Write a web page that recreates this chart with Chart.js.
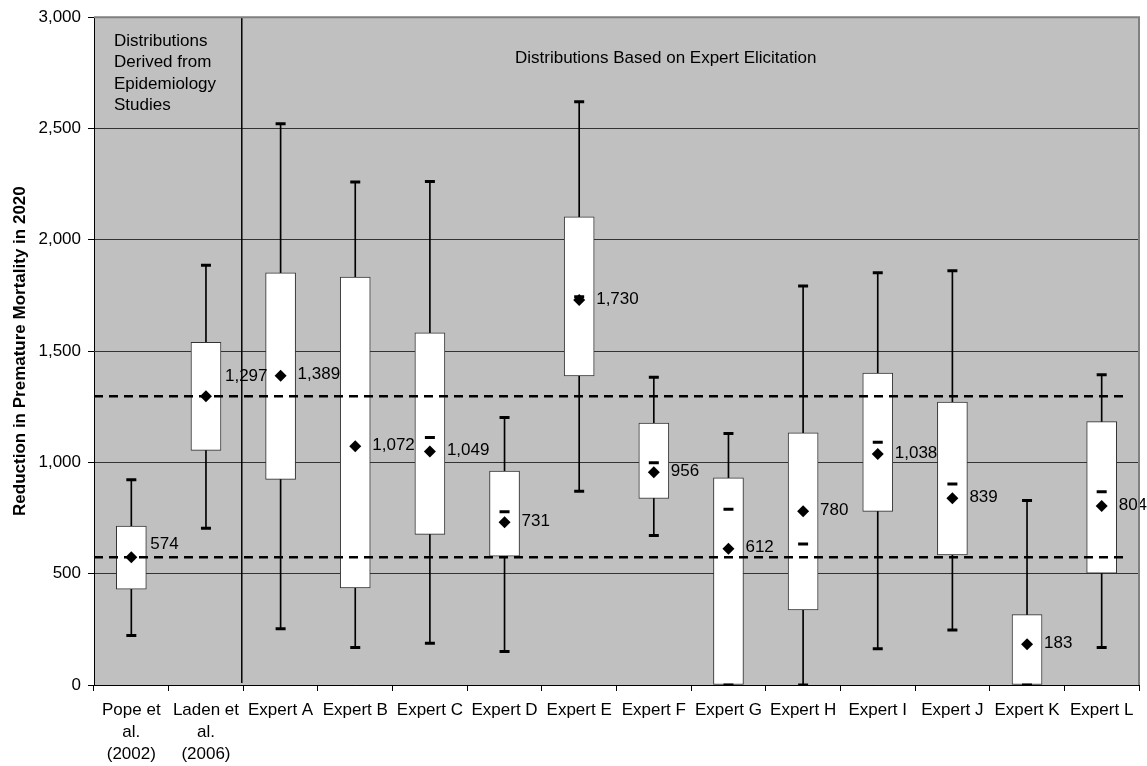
<!DOCTYPE html>
<html>
<head>
<meta charset="utf-8">
<title>Reduction in Premature Mortality in 2020</title>
<script src="https://cdn.jsdelivr.net/npm/chart.js@4"></script>
<style>
    html, body { margin: 0; padding: 0; background: #fff; }
    #wrap { width: 1147px; height: 766px; }
</style>
</head>
<body>
<div id="wrap"><canvas id="chart" width="1147" height="766"></canvas></div>
<script>
// Categories (first two from epidemiology studies, rest from expert elicitation)
const categories = [
    ['Pope et', 'al.', '(2002)'], ['Laden et', 'al.', '(2006)'],
    'Expert A', 'Expert B', 'Expert C', 'Expert D', 'Expert E', 'Expert F',
    'Expert G', 'Expert H', 'Expert I', 'Expert J', 'Expert K', 'Expert L'
];
const whiskerLow  = [222, 704, 253, 169, 187, 151, 870, 672, 0, 0, 163, 247, 0, 168];
const boxLow      = [430, 1054, 924, 436, 677, 579, 1388, 838, 0, 337, 780, 584, 0, 502];
const boxHigh     = [714, 1539, 1852, 1832, 1582, 961, 2103, 1177, 931, 1133, 1401, 1271, 316, 1183];
const whiskerHigh = [922, 1886, 2521, 2260, 2262, 1202, 2620, 1382, 1130, 1792, 1852, 1861, 829, 1394];
const medians     = [null, null, null, null, 1112, 778, 1744, 998, 789, 633, 1090, 903, null, 868];
const means       = [574, 1297, 1389, 1072, 1049, 731, 1730, 956, 612, 780, 1038, 839, 183, 804];
const refLines    = [574, 1297];
const yTicks      = [0, 500, 1000, 1500, 2000, 2500, 3000];

const FONT = '"Liberation Sans", Arial, sans-serif';
const fmt = v => v.toLocaleString('en-US');

// gray plot background + top/right border
const plotBg = {
    id: 'plotBg',
    beforeDraw(chart) {
        const a = chart.chartArea, ctx = chart.ctx;
        ctx.save();
        ctx.fillStyle = '#c0c0c0';
        ctx.fillRect(a.left, a.top, a.right - a.left, a.bottom - a.top);
        ctx.restore();
    },
    afterDraw(chart) {
        const a = chart.chartArea, ctx = chart.ctx;
        ctx.save();
        ctx.strokeStyle = '#808080';
        ctx.lineWidth = 2;
        ctx.beginPath();
        ctx.moveTo(a.left, a.top);
        ctx.lineTo(a.right, a.top);
        ctx.lineTo(a.right, a.bottom);
        ctx.stroke();
        ctx.restore();
    }
};

// dashed reference lines, separator, mean labels and notes
const overlay = {
    id: 'overlay',
    afterDatasetsDraw(chart) {
        const ctx = chart.ctx, a = chart.chartArea;
        const y = chart.scales.y, x = chart.scales.x;
        ctx.save();

        ctx.strokeStyle = '#000';
        ctx.lineWidth = 2.5;
        ctx.setLineDash([9, 6]);
        refLines.forEach(v => {
            const py = y.getPixelForValue(v);
            ctx.beginPath();
            ctx.moveTo(a.left, py);
            ctx.lineTo(a.right - 11, py);
            ctx.stroke();
        });
        ctx.setLineDash([]);

        // separator between study-based and expert-based distributions
        const sx = (x.getPixelForValue(1) + x.getPixelForValue(2)) / 2 - 1.5;
        ctx.lineWidth = 1.5;
        ctx.beginPath();
        ctx.moveTo(sx, a.top);
        ctx.lineTo(sx, a.bottom - 2);
        ctx.stroke();

        // mean value labels
        const lift = { 0: -13, 1: -20 };
        const meta = chart.getDatasetMeta(4);
        ctx.fillStyle = '#000';
        ctx.font = '17px ' + FONT;
        ctx.textAlign = 'left';
        ctx.textBaseline = 'middle';
        meta.data.forEach((pt, i) => {
            const dx = i < 2 ? 19 : 17;
            ctx.fillText(fmt(means[i]), pt.x + dx, pt.y + (lift[i] || -1));
        });

        // notes
        ['Distributions', 'Derived from', 'Epidemiology', 'Studies'].forEach((t, i) => {
            ctx.fillText(t, a.left + 20, a.top + 24 + i * 21.4);
        });
        ctx.fillText('Distributions Based on Expert Elicitation', 515, a.top + 41);
        ctx.restore();
    }
};

new Chart(document.getElementById('chart'), {
    type: 'bar',
    data: {
        labels: categories,
        datasets: [
            {
                label: 'Range',
                data: whiskerLow.map((v, i) => [v, whiskerHigh[i]]),
                backgroundColor: '#000',
                borderWidth: 0,
                barThickness: 1,
                grouped: false,
                order: 6
            },
            {
                label: 'Interquartile',
                data: boxLow.map((v, i) => [v, boxHigh[i]]),
                backgroundColor: '#fff',
                borderColor: '#333',
                borderWidth: 1,
                borderSkipped: false,
                barThickness: 30,
                grouped: false,
                order: 5
            },
            {
                type: 'line',
                label: 'Low',
                data: whiskerLow,
                showLine: false,
                pointStyle: 'line',
                pointRadius: 5,
                pointHoverRadius: 5,
                pointBorderWidth: 3,
                borderColor: '#000',
                order: 4
            },
            {
                type: 'line',
                label: 'High',
                data: whiskerHigh,
                showLine: false,
                pointStyle: 'line',
                pointRadius: 5,
                pointHoverRadius: 5,
                pointBorderWidth: 3,
                borderColor: '#000',
                order: 3
            },
            {
                type: 'line',
                label: 'Mean',
                data: means,
                showLine: false,
                pointStyle: 'rectRot',
                pointRadius: 6,
                pointHoverRadius: 6,
                pointBorderWidth: 0,
                backgroundColor: '#000',
                borderColor: '#000',
                order: 1
            },
            {
                type: 'line',
                label: 'Median',
                data: medians,
                showLine: false,
                pointStyle: 'line',
                pointRadius: 5,
                pointHoverRadius: 5,
                pointBorderWidth: 3,
                borderColor: '#000',
                order: 2
            }
        ]
    },
    options: {
        responsive: false,
        animation: false,
        layout: { padding: { top: 17, right: 8, bottom: 0, left: 0 } },
        plugins: {
            legend: { display: false },
            tooltip: { enabled: false }
        },
        scales: {
            x: {
                offset: true,
                grid: { offset: true, drawOnChartArea: false, tickLength: 6, tickColor: '#000' },
                border: { color: '#000', width: 1 },
                ticks: {
                    color: '#000',
                    padding: 8,
                    maxRotation: 0,
                    autoSkip: false,
                    font: { family: FONT, size: 17, lineHeight: 1.3 }
                },
                afterFit(scale) { scale.height = 81; }
            },
            y: {
                min: 0,
                max: 3000,
                afterBuildTicks(scale) { scale.ticks = yTicks.map(v => ({ value: v })); },
                grid: {
                    color: ctx => ctx.tick && ctx.tick.value === 3000 ? 'rgba(0,0,0,0)' : '#333',
                    tickLength: 6,
                    tickColor: '#000'
                },
                border: { color: '#000', width: 1 },
                ticks: {
                    color: '#000',
                    padding: 7,
                    font: { family: FONT, size: 17 },
                    callback: v => fmt(v)
                },
                title: {
                    display: true,
                    text: 'Reduction in Premature Mortality in 2020',
                    color: '#000',
                    font: { family: FONT, size: 17, weight: 'bold' },
                    padding: { top: 10, bottom: 0 }
                },
                afterFit(scale) { scale.width = 94; }
            }
        }
    },
    plugins: [plotBg, overlay]
});
</script>
</body>
</html>
